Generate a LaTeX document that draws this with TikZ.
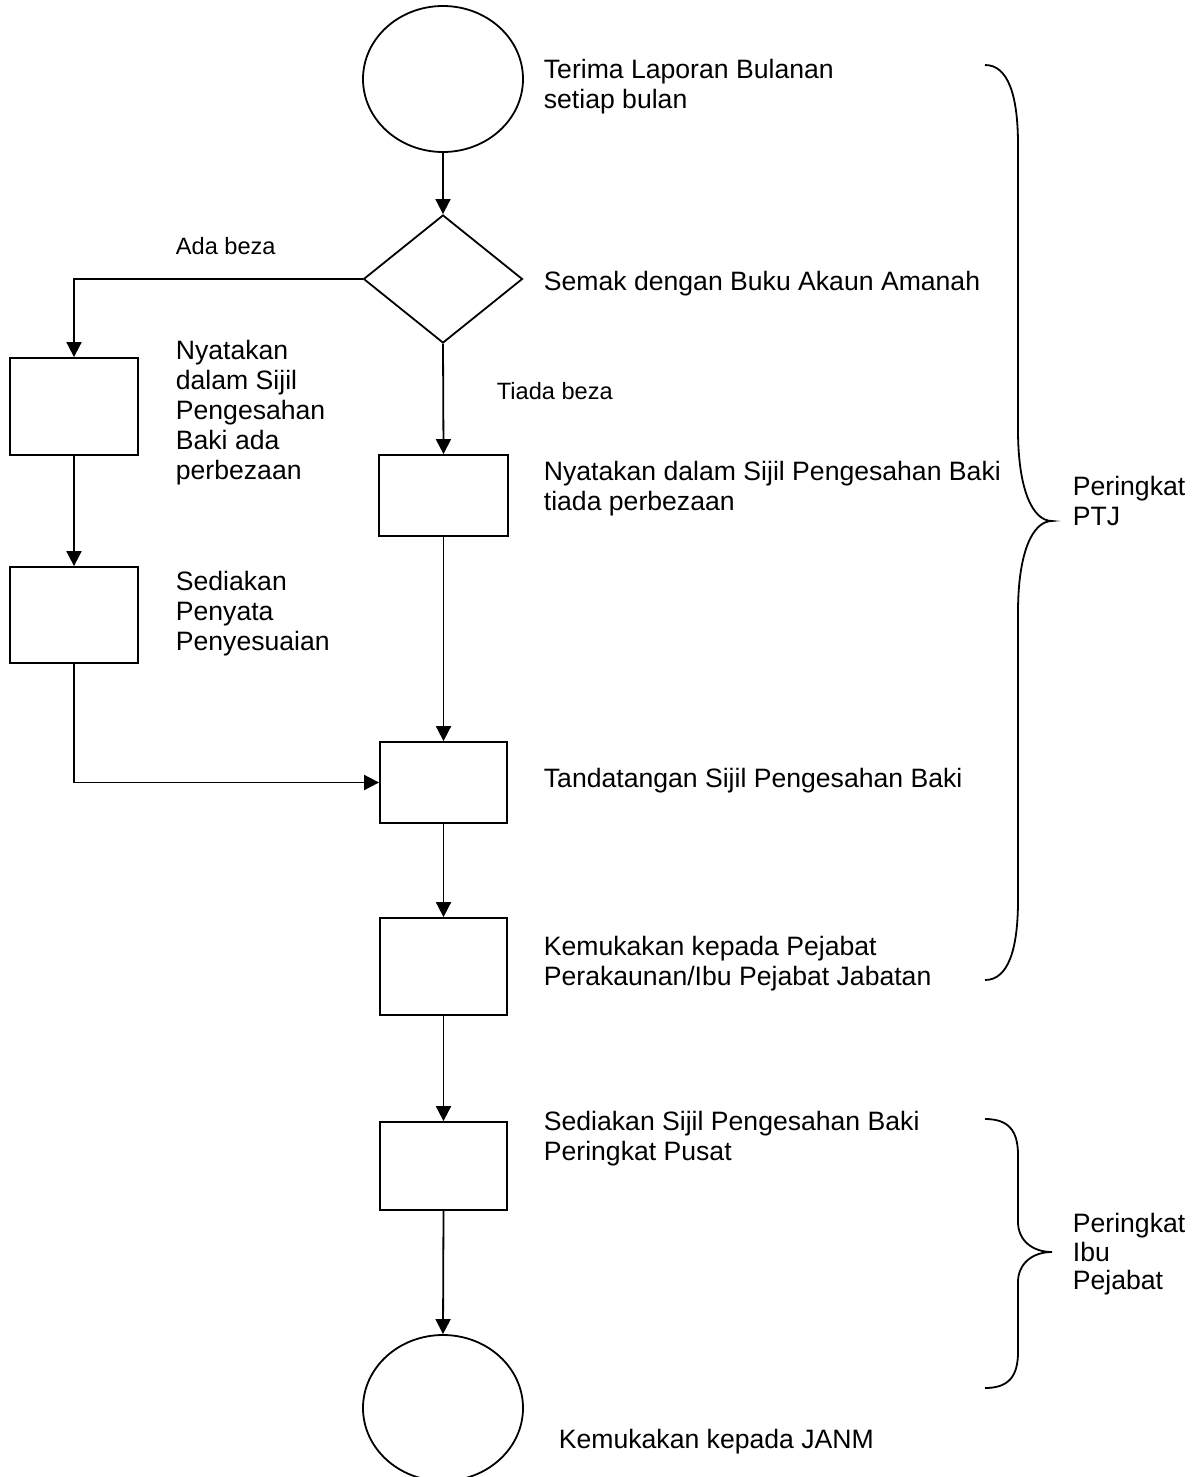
\documentclass[tikz,border=0pt]{standalone}
\usepackage{fontspec}
\setmainfont{Liberation Sans}
\usetikzlibrary{shapes.geometric,arrows.meta}
\begin{document}
\begin{tikzpicture}[x=1pt,y=-1pt,
  line width=1.8pt,
  box/.style={draw,rectangle,inner sep=0pt,minimum width=127pt},
  term/.style={draw,ellipse,inner sep=0pt,minimum width=160pt,minimum height=146pt},
  decide/.style={draw,diamond,inner sep=0pt,minimum width=159pt,minimum height=128pt},
  flow/.style={-{Triangle[length=15pt,width=15pt]}},
  txt/.style={anchor=north west,inner sep=0pt,align=left,font=\fontsize{26.6}{30}\selectfont},
  small/.style={anchor=north west,inner sep=0pt,align=left,font=\fontsize{23.6}{28}\selectfont},
  brace/.style={line width=1.8pt}]
\clip (0,0) rectangle (1196,1477);
\fill[white] (0,0) rectangle (1196,1477);

% shapes
\node[term] (c1) at (443,79) {};
\node[decide] (d) at (443,279) {};
\node[box,minimum width=128pt,minimum height=97pt] (b1) at (74,406.5) {};
\node[box,minimum width=128pt,minimum height=96pt] (b2) at (74,615) {};
\node[box,minimum width=129pt,minimum height=81pt] (n2) at (443.5,495.5) {};
\node[box,minimum height=81pt] (t) at (443.5,782.5) {};
\node[box,minimum height=97pt] (k) at (443.5,966.5) {};
\node[box,minimum height=88pt] (s) at (443.5,1166) {};
\node[term] (c2) at (443,1408) {};

% connectors
\draw[flow] (c1.south) -- (d.north);
\draw[flow] (d.west) -| (b1.north);
\draw[flow] (d.south) -- (n2.north);
\draw[flow] (b1.south) -- (b2.north);
\draw[flow] (b2.south) |- (t.west);
\draw[flow] (n2.south) -- (t.north);
\draw[flow] (t.south) -- (k.north);
\draw[flow] (k.south) -- (s.north);
\draw[flow] (s.south) -- (c2.north);

% texts
\node[txt] (l1) at (543,58.5) {Terima Laporan Bulanan\\setiap bulan};
\node[txt] (l2) at (543,270.5) {Semak dengan Buku Akaun Amanah};
\node[small] (l3) at (175,236.5) {Ada beza};
\node[txt] (l4) at (175,339.5) {Nyatakan\\dalam Sijil\\Pengesahan\\Baki ada\\perbezaan};
\node[small] (l5) at (496,381.5) {Tiada beza};
\node[txt] (l6) at (543,460.5) {Nyatakan dalam Sijil Pengesahan Baki\\tiada perbezaan};
\node[txt] (l7) at (175,570.5) {Sediakan\\Penyata\\Penyesuaian};
\node[txt] (l8) at (543,767.5) {Tandatangan Sijil Pengesahan Baki};
\node[txt] (l9) at (543,935.5) {Kemukakan kepada Pejabat\\Perakaunan/Ibu Pejabat Jabatan};
\node[txt] (l10) at (543,1110.5) {Sediakan Sijil Pengesahan Baki\\Peringkat Pusat};
\node[txt] (l11) at (558,1428.5) {Kemukakan kepada JANM};
\node[txt] (l12) at (1072,475.5) {Peringkat\\PTJ};
\node[txt,font=\fontsize{26.6}{28.5}\selectfont] (l13) at (1072,1212.5) {Peringkat\\Ibu\\Pejabat};

% braces
\draw[brace] (985,65) .. controls (1008,65) and (1018,95) .. (1018,145)
  -- (1018,430) .. controls (1018,488) and (1032,521) .. (1052,521)
  .. controls (1032,521) and (1018,554) .. (1018,612)
  -- (1018,900) .. controls (1018,950) and (1008,980) .. (985,980);
\draw[brace] (985,1119) .. controls (1008,1119) and (1018,1130) .. (1018,1155)
  -- (1018,1222) .. controls (1018,1240) and (1032,1252) .. (1052,1252)
  .. controls (1032,1252) and (1018,1264) .. (1018,1282)
  -- (1018,1352) .. controls (1018,1377) and (1008,1388) .. (985,1388);
\end{tikzpicture}
\end{document}
